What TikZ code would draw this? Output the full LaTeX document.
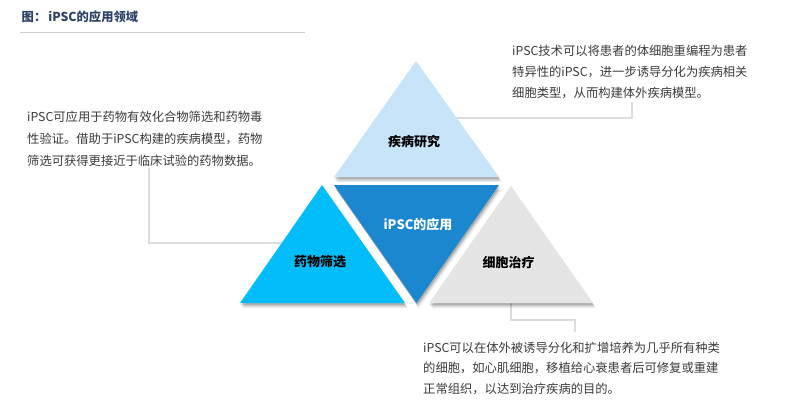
\documentclass[tikz,border=0pt]{standalone}
\usepackage{fontspec}
\setmainfont{Noto Sans CJK SC}
\definecolor{titlec}{HTML}{2E4267}
\definecolor{rulec}{HTML}{CCCCCC}
\definecolor{linkc}{HTML}{DCDCDC}
\definecolor{txtc}{HTML}{3A3A3A}
\definecolor{topc}{HTML}{C8E4F9}
\definecolor{midc}{HTML}{1B87CF}
\definecolor{leftc}{HTML}{03BDFB}
\definecolor{rightc}{HTML}{E5E5E5}
\tikzset{
  body/.style={anchor=base west,inner sep=0pt,text=txtc,font=\fontsize{12.3}{15}\selectfont},
  trilabel/.style={inner sep=0pt,font=\fontsize{13}{15}\selectfont\bfseries},
  link/.style={draw=linkc,line width=1.6pt},
  shA/.style={fill=black,opacity=0.08,transform canvas={xshift=2.5pt,yshift=-5pt}},
  shB/.style={fill=black,opacity=0.12,transform canvas={xshift=1.5pt,yshift=-3.5pt}},
  shC/.style={fill=black,opacity=0.16,transform canvas={xshift=0.8pt,yshift=-2pt}},
}
\begin{document}
\begin{tikzpicture}[x=1pt,y=-1pt]
\useasboundingbox (0,0) rectangle (802,406);
% title
\node[anchor=base west,inner sep=0pt,text=titlec,font=\fontsize{12.3}{14}\selectfont\bfseries] (title) at (21.5,21.5) {图：\,iPSC的应用领域};
\coordinate (ruleA) at (20,32.3);
\coordinate (ruleB) at (305,32.3);
\draw[rulec,line width=1.3pt] (ruleA) -- (ruleB);
% triangle corners
\coordinate (T1) at (416,61);   \coordinate (T2) at (334,177);  \coordinate (T3) at (499,177);
\coordinate (M1) at (334,185);  \coordinate (M2) at (499,185);  \coordinate (M3) at (416.5,303);
\coordinate (L1) at (322,185);  \coordinate (L2) at (240,303);  \coordinate (L3) at (405,303);
\coordinate (R1) at (511,186);  \coordinate (R2) at (429,303);  \coordinate (R3) at (593,303);
% connectors
\coordinate (c1a) at (457,118); \coordinate (c1b) at (632,118); \coordinate (c1c) at (632,102);
\coordinate (c2a) at (149,168); \coordinate (c2b) at (149,243); \coordinate (c2c) at (282,243);
\coordinate (c3a) at (511,300); \coordinate (c3b) at (511,320); \coordinate (c3c) at (575,320); \coordinate (c3d) at (575,332);
\draw[link] (c1a) -- (c1b) -- (c1c);
\draw[link] (c2a) -- (c2b) -- (c2c);
\draw[link] (c3a) -- (c3b) -- (c3c) -- (c3d);
% shadows
\foreach \a/\b/\c in {T1/T2/T3, M1/M2/M3, L1/L2/L3, R1/R2/R3}{
  \fill[shA] (\a) -- (\b) -- (\c) -- cycle;
  \fill[shB] (\a) -- (\b) -- (\c) -- cycle;
  \fill[shC] (\a) -- (\b) -- (\c) -- cycle;
}
% triangles
\fill[topc] (T1) -- (T2) -- (T3) -- cycle;
\fill[midc] (M1) -- (M2) -- (M3) -- cycle;
\fill[leftc] (L1) -- (L2) -- (L3) -- cycle;
\fill[rightc] (R1) -- (R2) -- (R3) -- cycle;
% labels
\node[trilabel] (top) at (414,142) {疾病研究};
\node[trilabel,text=white] (mid) at (418,225) {iPSC的应用};
\node[trilabel] (left) at (320,262) {药物筛选};
\node[trilabel] (right) at (508.5,263) {细胞治疗};
% texts
\node[body] (la) at (27,121.7) {iPSC可应用于药物有效化合物筛选和药物毒};
\node[body] (lb) at (27,143.7) {性验证。借助于iPSC构建的疾病模型，药物};
\node[body] (lc) at (27,165.7) {筛选可获得更接近于临床试验的药物数据。};
\node[body] (ra) at (512,55.7) {iPSC技术可以将患者的体细胞重编程为患者};
\node[body] (rb) at (512,76.7) {特异性的iPSC，进一步诱导分化为疾病相关};
\node[body] (rc) at (512,97.7) {细胞类型，从而构建体外疾病模型。};
\node[body] (ba) at (423,352.7) {iPSC可以在体外被诱导分化和扩增培养为几乎所有种类};
\node[body] (bb) at (423,372.7) {的细胞，如心肌细胞，移植给心衰患者后可修复或重建};
\node[body] (bc) at (423,393.7) {正常组织，以达到治疗疾病的目的。};
\end{tikzpicture}
\end{document}
